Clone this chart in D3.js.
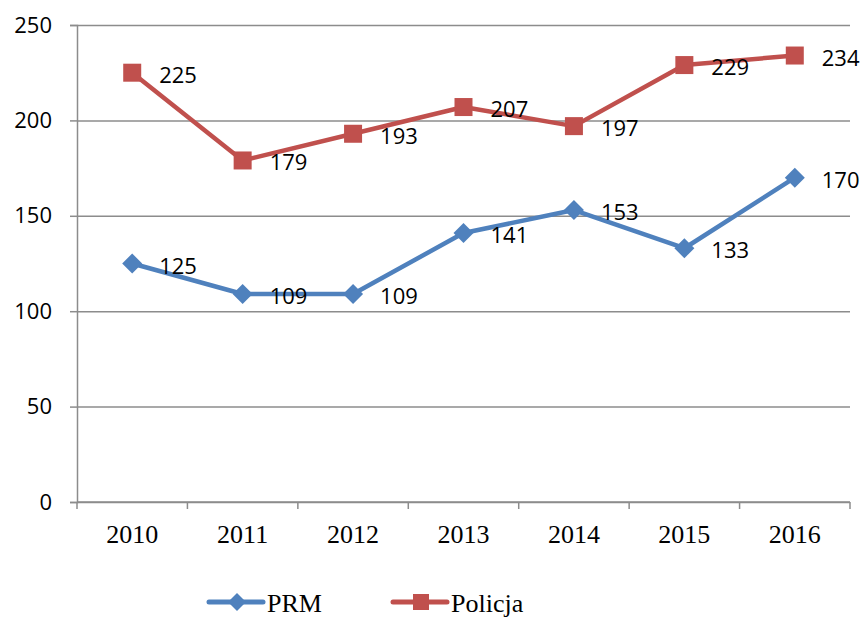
<!DOCTYPE html>
<html lang="pl">
<head>
<meta charset="UTF-8">
<title>PRM i Policja</title>
<script src="https://d3js.org/d3.v7.min.js"></script>
<style>
  body { margin: 0; background: #fff; }
</style>
</head>
<body>
<script>
  const years = ["2010", "2011", "2012", "2013", "2014", "2015", "2016"];
  const prm = [125, 109, 109, 141, 153, 133, 170];
  const policja = [225, 179, 193, 207, 197, 229, 234];
  const yTicks = [0, 50, 100, 150, 200, 250];

  const width = 867, height = 617;
  const plotL = 77, plotR = 850, plotT = 25, plotB = 502;

  const svg = d3.select("body").append("svg")
    .attr("width", width)
    .attr("height", height);

  const x = d3.scaleBand().domain(years).range([plotL, plotR]);
  const y = d3.scaleLinear().domain([0, 250]).range([plotB, plotT]);

  // gridlines
  svg.append("g")
    .attr("transform", `translate(${plotL},0)`)
    .call(d3.axisLeft(y).tickValues(yTicks).tickSize(-(plotR - plotL)).tickFormat(""))
    .call(g => g.select(".domain").remove())
    .call(g => g.selectAll("line").attr("stroke", "#8c8c8c").attr("stroke-width", 1.5));

  // y axis
  svg.append("g")
    .attr("transform", `translate(${plotL},0)`)
    .call(d3.axisLeft(y).tickValues(yTicks).tickSize(7).tickPadding(18))
    .call(g => g.select(".domain").attr("stroke", "#8c8c8c").attr("stroke-width", 1.5))
    .call(g => g.selectAll("line").attr("stroke", "#8c8c8c").attr("stroke-width", 1.5))
    .call(g => g.selectAll("text")
      .attr("font-family", "'Open Sans', sans-serif")
      .attr("font-size", 22)
      .attr("fill", "#000"));

  // x axis, ticks at band edges
  const xa = svg.append("g").attr("transform", `translate(0,${plotB})`);
  xa.append("line")
    .attr("x1", plotL).attr("x2", plotR)
    .attr("stroke", "#8c8c8c").attr("stroke-width", 1.5);
  xa.selectAll("line.tk").data(years.concat(["end"])).join("line")
    .attr("class", "tk")
    .attr("x1", (d, i) => i < years.length ? x(d) : plotR)
    .attr("x2", (d, i) => i < years.length ? x(d) : plotR)
    .attr("y1", 0).attr("y2", 7)
    .attr("stroke", "#8c8c8c").attr("stroke-width", 1.5);
  xa.selectAll("text").data(years).join("text")
    .attr("x", d => x(d) + x.bandwidth() / 2)
    .attr("y", 41)
    .attr("text-anchor", "middle")
    .attr("font-family", "'Liberation Serif', serif")
    .attr("font-size", 26)
    .text(d => d);

  const cx = d => x(d) + x.bandwidth() / 2;
  const line = d3.line().x((d, i) => cx(years[i])).y(d => y(d));

  const series = [
    { name: "PRM", values: prm, color: "#4f81bd", marker: "diamond" },
    { name: "Policja", values: policja, color: "#c0504d", marker: "square" }
  ];

  function drawMarker(g, type, color, px, py, s) {
    if (type === "square") {
      g.append("rect")
        .attr("x", px - s / 2).attr("y", py - s / 2)
        .attr("width", s).attr("height", s)
        .attr("fill", color);
    } else {
      const r = s / 2 + 1;
      g.append("path")
        .attr("d", `M${px},${py - r}L${px + r},${py}L${px},${py + r}L${px - r},${py}Z`)
        .attr("fill", color);
    }
  }

  series.forEach(s => {
    svg.append("path")
      .datum(s.values)
      .attr("d", line)
      .attr("fill", "none")
      .attr("stroke", s.color)
      .attr("stroke-width", 4.5)
      .attr("stroke-linejoin", "round");
    const mg = svg.append("g");
    s.values.forEach((v, i) => drawMarker(mg, s.marker, s.color, cx(years[i]), y(v), 18));
    svg.append("g").selectAll("text").data(s.values).join("text")
      .attr("x", (d, i) => cx(years[i]) + 27)
      .attr("y", d => y(d) + 1)
      .attr("dominant-baseline", "central")
      .attr("font-family", "'Open Sans', sans-serif")
      .attr("font-size", 22)
      .text(d => d);
  });

  // legend
  const legendX = [209, 393];
  series.forEach((s, i) => {
    const g = svg.append("g").attr("transform", `translate(${legendX[i]},602)`);
    g.append("line")
      .attr("x1", 0).attr("x2", 54)
      .attr("stroke", s.color).attr("stroke-width", 5)
      .attr("stroke-linecap", "round");
    drawMarker(g, s.marker, s.color, 28, 0, 16);
    g.append("text")
      .attr("x", 58).attr("y", 10)
      .attr("font-family", "'Liberation Serif', serif")
      .attr("font-size", 26)
      .text(s.name);
  });
</script>
</body>
</html>
